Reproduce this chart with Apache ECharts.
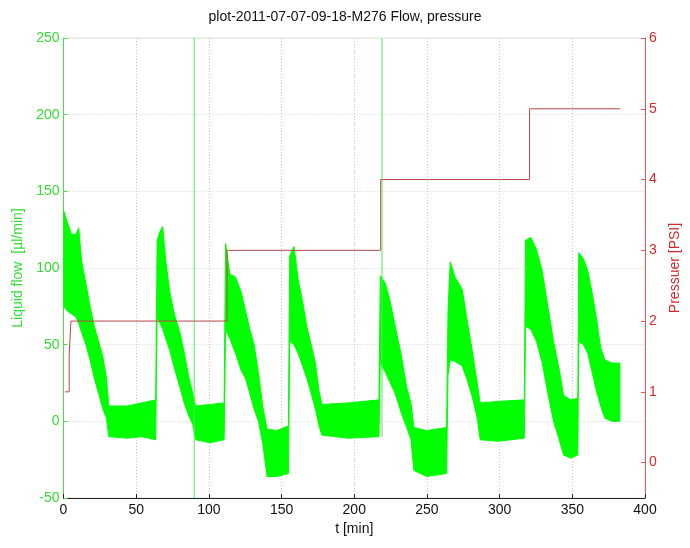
<!DOCTYPE html>
<html>
<head>
<meta charset="utf-8">
<script src="https://cdn.jsdelivr.net/npm/echarts@6/dist/echarts.min.js"></script>
<style>
html,body{margin:0;padding:0;background:#fff;}
#chart{width:690px;height:548px;}
</style>
</head>
<body>
<div id="chart"></div>
<script>
// Flow envelope (upper/lower edge of the noisy trace)
var flowT  = [0.2, 2.6, 5.5, 8.5, 10.5, 12.4, 15.4, 18.3, 21.2, 24.2, 27.1, 29.6, 31.1, 43.8, 53.6, 63.4,
              64.4, 66.4, 68.3, 70.3, 73.2, 76.2, 80.1, 83.0, 86.0, 88.9, 90.9, 100.7, 110.5,
              111.5, 114.4, 118.4, 122.3, 125.2, 128.2, 131.1, 134.1, 137.0, 140.0, 146.8, 154.7,
              155.6, 158.6, 161.5, 164.5, 167.4, 170.4, 173.3, 175.8, 177.7, 195.9, 217.0,
              217.9, 221.4, 224.3, 228.2, 232.2, 236.1, 239.0, 241.0, 249.8, 263.5,
              264.5, 266.0, 269.4, 274.3, 277.3, 281.2, 284.6, 286.6, 298.9, 317.0,
              317.8, 321.4, 325.4, 329.3, 333.2, 337.1, 341.0, 344.0, 348.9, 353.8,
              354.4, 357.7, 360.7, 363.6, 366.5, 369.5, 372.4, 377.3, 382.7];
var flowHi = [137, 130, 122, 122, 126, 105, 90, 75, 62, 52, 42, 28, 10, 10, 12, 14,
              118, 124, 127, 105, 84, 70, 58, 45, 30, 18, 10, 11, 12,
              116, 96, 94, 84, 72, 60, 50, 32, 10, -5, -6, -3,
              108, 114, 92, 78, 62, 50, 38, 20, 11, 12, 14,
              95, 90, 80, 62, 44, 22, 12, -4, -6, -4,
              72, 104, 94, 86, 68, 46, 25, 12, 13, 14,
              118, 120, 112, 98, 75, 52, 34, 17, 14, 15,
              110, 106, 98, 84, 68, 48, 40, 38, 38];
var flowLo = [75, 72, 70, 68, 64, 58, 50, 40, 28, 18, 8, 2, -10, -11, -10, -12,
              68, 64, 60, 54, 46, 35, 22, 12, 4, -2, -12, -14, -12,
              60, 54, 44, 33, 28, 18, 8, 0, -14, -36, -36, -34,
              52, 50, 44, 36, 28, 18, 8, -3, -9, -11, -10,
              38, 32, 26, 18, 6, -4, -12, -32, -36, -34,
              30, 40, 39, 36, 28, 16, 2, -12, -13, -11,
              62, 60, 52, 38, 18, 0, -12, -22, -24, -22,
              52, 50, 44, 32, 20, 10, 2, 0, 0];
// Single full-height spikes in the flow trace
var spikeT      = [89.9, 219.1];
var spikeTop    = [250, 250];
var spikeBottom = [-50, -10];
// Pressure steps (start time, value) and end time
var pressT   = [1.0, 3.9, 5.1, 112.5, 218.2, 320.6, 383.0];
var pressV   = [1, 1.5, 2, 3, 4, 5, 5];
// Axis ticks
var xTicks   = [0, 50, 100, 150, 200, 250, 300, 350, 400];
var flowTicks = [-50, 0, 50, 100, 150, 200, 250];
var pressTicks = [0, 1, 2, 3, 4, 5, 6];

var FONT = "'Liberation Sans', Arial, Helvetica, sans-serif";
var GREEN = '#00ff00';
var AXGREEN = '#33dd33';
var RED = '#d42a2a';

var chart = echarts.init(document.getElementById('chart'), null, {renderer: 'canvas'});

var series = [];
series.push({
  type: 'custom',
  coordinateSystem: 'cartesian2d',
  xAxisIndex: 0, yAxisIndex: 0,
  clip: true,
  silent: true,
  data: [[flowT[0], flowHi[0]]],
  renderItem: function (params, api) {
    var pts = [];
    for (var i = 0; i < flowT.length; i++) pts.push(api.coord([flowT[i], flowHi[i]]));
    for (var j = flowT.length - 1; j >= 0; j--) pts.push(api.coord([flowT[j], flowLo[j]]));
    return {type: 'polygon', shape: {points: pts},
            style: {fill: GREEN, stroke: GREEN, lineWidth: 1}};
  },
  z: 2
});
spikeT.forEach(function (t, k) {
  series.push({
    type: 'line', xAxisIndex: 0, yAxisIndex: 0, symbol: 'none', silent: true,
    data: [[t, spikeBottom[k]], [t, spikeTop[k]]],
    lineStyle: {color: '#55ee55', width: 1},
    z: 2
  });
});
series.push({
  type: 'line', xAxisIndex: 0, yAxisIndex: 1, symbol: 'none', silent: true,
  step: 'end',
  data: pressT.map(function (t, i) { return [t, pressV[i]]; }),
  lineStyle: {color: '#b84848', width: 1},
  z: 3
});

chart.setOption({
  animation: false,
  backgroundColor: '#ffffff',
  title: {
    text: 'plot-2011-07-07-09-18-M276 Flow, pressure',
    left: 'center', top: 5,
    textStyle: {fontFamily: FONT, fontSize: 14, fontWeight: 'normal', color: '#111'}
  },
  grid: {left: 63.5, right: 38, top: 38, bottom: 50, show: true,
         borderColor: '#dfe8df', borderWidth: 1, backgroundColor: 'transparent'},
  xAxis: {
    type: 'value', min: xTicks[0], max: xTicks[xTicks.length - 1], interval: 50,
    name: 't [min]', nameLocation: 'middle', nameGap: 17,
    nameTextStyle: {fontFamily: FONT, fontSize: 14, color: '#111'},
    axisLine: {show: true, onZero: false, lineStyle: {color: '#222', width: 1}},
    axisTick: {show: true, inside: true, length: 4, lineStyle: {color: '#222'}},
    axisLabel: {fontFamily: FONT, fontSize: 14, color: '#111', margin: 5},
    splitLine: {show: true, lineStyle: {color: '#c4c4c4', type: [1, 2], width: 1}}
  },
  yAxis: [{
    type: 'value', position: 'left', min: flowTicks[0], max: flowTicks[flowTicks.length - 1], interval: 50,
    name: 'Liquid flow  [\u00b5l/min]', nameLocation: 'middle', nameGap: 31,
    nameTextStyle: {fontFamily: FONT, fontSize: 14, color: AXGREEN},
    axisLine: {show: true, onZero: false, lineStyle: {color: '#44e044', width: 1}},
    axisTick: {show: true, inside: true, length: 4, lineStyle: {color: '#44e044'}},
    axisLabel: {fontFamily: FONT, fontSize: 14, color: AXGREEN, margin: 4},
    splitLine: {show: true, lineStyle: {color: '#cfd8cf', type: [1, 2], width: 1}}
  }, {
    type: 'value', position: 'right', min: -0.5, max: 6,
    name: 'Pressuer [PSI]', nameLocation: 'middle', nameGap: 23, nameRotate: 90,
    nameTextStyle: {fontFamily: FONT, fontSize: 14, color: RED},
    axisLine: {show: true, onZero: false, lineStyle: {color: '#d86060', width: 1}},
    axisTick: {show: true, inside: true, length: 4, lineStyle: {color: '#d86060'}, customValues: pressTicks},
    axisLabel: {fontFamily: FONT, fontSize: 14, color: RED, margin: 4, customValues: pressTicks},
    splitLine: {show: false}
  }],
  series: series
});
</script>
</body>
</html>
